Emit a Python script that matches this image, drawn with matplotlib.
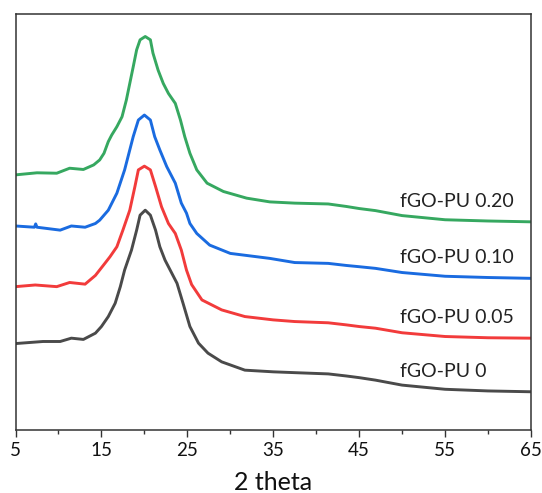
import matplotlib
matplotlib.use("Agg")
import matplotlib.pyplot as plt
from matplotlib.ticker import MultipleLocator, NullLocator

plt.rcParams['font.family'] = ['Lato', 'DejaVu Sans']

# 2-theta positions and intensities (arbitrary units, vertically offset)
x_pu0 = [5.0, 8.2, 10.2, 11.5, 12.9, 14.3, 15.0, 15.8, 16.6, 17.2, 17.7, 18.5,
         19.1, 19.5, 20.1, 20.7, 21.3, 21.8, 22.4, 23.0, 23.8, 24.5, 25.3, 26.3,
         27.4, 29.0, 31.7, 35.0, 37.5, 41.4, 43.5, 45.0, 46.9, 50.0, 55.0, 60.0, 65.0]
y_pu0 = [20.8, 21.3, 21.3, 22.1, 21.8, 23.3, 24.9, 27.3, 30.5, 34.5, 38.5, 43.3,
         48.1, 51.7, 52.9, 51.7, 48.1, 44.1, 40.9, 38.5, 35.3, 30.5, 24.9, 20.9,
         18.5, 16.4, 14.4, 14.0, 13.8, 13.5, 13.0, 12.6, 12.0, 10.8, 9.8, 9.4, 9.2]

x_pu005 = [5.0, 7.3, 9.8, 11.3, 13.1, 14.3, 15.4, 16.0, 16.8, 17.5, 18.3, 18.9,
           19.3, 20.0, 20.7, 21.3, 22.0, 22.8, 23.6, 24.3, 24.9, 25.5, 26.7,
           29.0, 31.7, 35.0, 37.5, 41.4, 43.5, 45.0, 46.9, 50.0, 55.0, 60.0, 65.0]
y_pu005 = [34.5, 34.9, 34.5, 35.5, 35.1, 37.2, 40.1, 41.7, 44.1, 48.1, 52.9, 58.6,
           62.6, 63.5, 62.6, 58.6, 53.7, 49.7, 47.3, 43.3, 38.5, 35.0, 31.3,
           28.9, 27.3, 26.5, 26.1, 25.8, 25.3, 24.9, 24.5, 23.4, 22.5, 22.2, 22.1]

x_pu010 = [5.0, 7.2, 7.35, 7.5, 10.2, 11.5, 13.1, 14.3, 14.8, 15.8, 16.8, 17.7,
           18.3, 18.7, 19.3, 20.0, 20.7, 21.2, 21.8, 22.6, 23.6, 24.3, 24.9, 25.3,
           26.1, 27.6, 30.0, 34.6, 37.5, 41.4, 43.5, 45.0, 46.9, 50.0, 55.0, 60.0, 65.0]
y_pu010 = [49.1, 48.8, 49.6, 48.8, 48.1, 49.1, 48.8, 49.7, 50.5, 52.9, 57.0, 62.6,
           67.4, 70.6, 74.6, 75.8, 74.6, 70.6, 67.4, 63.4, 59.4, 54.6, 52.2, 49.7,
           47.3, 44.5, 42.5, 41.3, 40.3, 40.1, 39.6, 39.3, 38.9, 37.9, 37.0, 36.7, 36.5]

x_pu020 = [5.0, 7.5, 9.8, 11.3, 12.9, 14.1, 14.8, 15.3, 15.8, 16.2, 16.8, 17.4,
           17.9, 18.3, 18.7, 19.1, 19.5, 20.1, 20.7, 21.0, 21.6, 22.2, 22.8, 23.6,
           24.2, 24.7, 25.3, 26.1, 27.3, 29.2, 31.9, 34.6, 37.5, 41.4, 43.5, 45.0,
           46.9, 50.0, 55.0, 60.0, 65.0]
y_pu020 = [61.4, 61.9, 61.8, 63.0, 62.7, 63.8, 65.0, 66.6, 69.4, 71.0, 73.0, 75.4,
           79.4, 83.4, 87.4, 91.5, 93.9, 94.7, 93.9, 90.7, 86.6, 83.4, 81.0, 78.6,
           74.6, 70.6, 66.6, 62.6, 59.4, 57.4, 55.8, 54.9, 54.6, 54.4, 53.8, 53.3,
           52.8, 51.6, 50.6, 50.3, 50.1]

labels = ["fGO-PU 0", "fGO-PU 0.05", "fGO-PU 0.10", "fGO-PU 0.20"]
label_y = [12.8, 25.7, 40.1, 53.7]
label_x = 49.8
colors = ["#4a4a4a", "#f23b3b", "#1a6be0", "#36a860"]
xticks = [5, 15, 25, 35, 45, 55, 65]

fig = plt.figure(figsize=(5.42, 4.93), dpi=100)
ax = fig.add_axes([0.0286, 0.1278, 0.9511, 0.8428])

series = [(x_pu0, y_pu0), (x_pu005, y_pu005), (x_pu010, y_pu010), (x_pu020, y_pu020)]
for (xs, ys), c in zip(series, colors):
    ax.plot(xs, ys, color=c, lw=2.1, solid_joinstyle='round', solid_capstyle='round')

for lab, ly in zip(labels, label_y):
    ax.text(label_x, ly, lab, fontsize=14, color='#222222', ha='left', va='baseline')

ax.set_xlim(5, 65)
ax.set_ylim(0, 100)
ax.set_xticks(xticks)
ax.set_xticklabels([str(t) for t in xticks])
ax.xaxis.set_minor_locator(MultipleLocator(5))
ax.yaxis.set_major_locator(NullLocator())
ax.tick_params(axis='x', which='major', direction='out', length=5, width=1.0,
               labelsize=13.5, pad=4, colors='#333333', labelcolor='#111111')
ax.tick_params(axis='x', which='minor', direction='out', length=3, width=1.0,
               colors='#333333')
for s in ax.spines.values():
    s.set_linewidth(1.1)
    s.set_color('#333333')
ax.set_xlabel("2 theta", fontsize=18, color='#111111', labelpad=8)

fig.savefig("out.png", dpi=100)
